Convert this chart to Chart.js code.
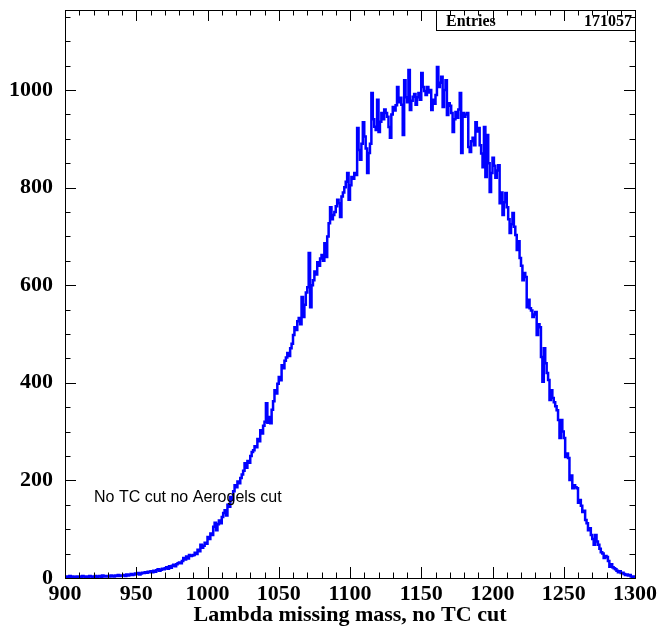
<!DOCTYPE html>
<html>
<head>
<meta charset="utf-8">
<script src="https://cdn.jsdelivr.net/npm/chart.js@4.4.1/dist/chart.umd.min.js"></script>
<style>
  body { margin: 0; background: #fff; }
  canvas { display: block; }
</style>
</head>
<body>
<canvas id="histo" width="659" height="626"></canvas>
<script>
// histogram: 400 bins of 1 unit from 900 to 1300
var binStart = 900;
var binWidth = 1;
var counts = [
    2, 3, 1, 4, 2, 3, 2, 1, 3, 2,
    3, 2, 4, 3, 2, 3, 1, 4, 3, 2,
    3, 4, 2, 3, 4, 2, 5, 3, 4, 3,
    4, 3, 5, 4, 3, 5, 4, 6, 4, 5,
    5, 6, 4, 7, 5, 6, 8, 6, 7, 9,
    8, 10, 7, 9, 11, 10, 12, 11, 13, 12,
    14, 12, 15, 13, 16, 18, 15, 17, 19, 18,
    20, 22, 19, 24, 21, 25, 27, 24, 28, 30,
    32, 30, 35, 41, 38, 44, 40, 47, 45, 46,
    47, 52, 49, 58, 55, 68, 62, 66, 72, 70,
    84, 80, 91, 88, 105, 113, 98, 110, 118, 112,
    125, 133, 139, 128, 150, 146, 166, 160, 178, 190,
    186, 198, 194, 205, 212, 220, 235, 226, 240, 236,
    250, 258, 262, 270, 268, 285, 280, 303, 296, 312,
    320, 358, 318, 330, 317, 345, 362, 385, 378, 398,
    412, 405, 436, 430, 445, 452, 461, 455, 471, 480,
    498, 514, 508, 526, 533, 520, 576, 535, 560, 585,
    596, 666, 555, 600, 610, 628, 622, 647, 640, 655,
    662, 650, 686, 658, 700, 727, 760, 735, 744, 750,
    762, 775, 768, 740, 782, 790, 801, 812, 830, 775,
    805, 822, 818, 830, 826, 922, 877, 857, 890, 934,
    905, 880, 830, 871, 890, 994, 940, 925, 918, 980,
    914, 935, 953, 940, 960, 953, 945, 924, 902, 950,
    965, 958, 969, 1006, 975, 984, 970, 908, 1020, 985,
    975, 1041, 959, 978, 986, 992, 970, 985, 994, 980,
    1035, 1006, 998, 990, 1006, 995, 1000, 959, 980, 972,
    990, 1047, 1006, 1015, 1027, 965, 1000, 1020, 949, 973,
    968, 953, 914, 940, 955, 943, 960, 994, 871, 953,
    945, 950, 953, 883, 873, 895, 902, 887, 934, 915,
    922, 887, 870, 842, 924, 822, 908, 850, 791, 830,
    861, 845, 820, 835, 846, 768, 790, 744, 770, 789,
    760, 735, 707, 725, 748, 720, 703, 672, 690, 656,
    640, 610, 625, 617, 555, 570, 553, 548, 535, 540,
    545, 498, 520, 514, 453, 402, 471, 440, 420, 406,
    365, 385, 369, 360, 352, 344, 324, 287, 324, 300,
    287, 248, 255, 246, 201, 210, 184, 190, 186, 184,
    154, 160, 148, 135, 138, 119, 112, 98, 102, 88,
    80, 68, 88, 75, 68, 60, 53, 50, 41, 45,
    43, 35, 23, 28, 22, 20, 18, 15, 12, 14,
    10, 11, 8, 6, 7, 5, 6, 3, 2, 3
];
var xTicks = [900, 950, 1000, 1050, 1100, 1150, 1200, 1250, 1300];
var yTicks = [0, 200, 400, 600, 800, 1000];
var xTitle = "Lambda missing mass, no TC cut";
var noteText = "No TC cut no Aerogels cut";
var entriesLabel = "Entries";
var entriesValue = "171057";

// points at the left edge of each bin, plus the closing edge
var points = counts.map((c, i) => ({ x: binStart + i * binWidth, y: c }));
points.push({ x: binStart + counts.length * binWidth, y: counts[counts.length - 1] });

var serif = "'Liberation Serif', 'DejaVu Serif', serif";

// ROOT style frame: ticks inside on all four sides, stats box, text label
var rootFrame = {
    id: 'rootFrame',
    afterDatasetsDraw(chart) {
        const ctx = chart.ctx;
        const a = chart.chartArea;
        const xs = chart.scales.x;
        const ys = chart.scales.y;
        ctx.save();

        // stats box
        ctx.fillStyle = '#fff';
        ctx.fillRect(436, a.top, a.right - 436, 20);
        ctx.strokeStyle = '#000';
        ctx.lineWidth = 1;
        ctx.strokeRect(436.5, a.top + 0.5, a.right - 436, 20);
        ctx.fillStyle = '#000';
        ctx.font = "bold 16px " + serif;
        ctx.textBaseline = 'alphabetic';
        ctx.textAlign = 'left';
        ctx.fillText(entriesLabel, 446, a.top + 16);
        ctx.textAlign = 'right';
        ctx.fillText(entriesValue, a.right - 3, a.top + 16);

        // frame
        ctx.lineWidth = 1;
        ctx.strokeStyle = '#000';
        ctx.strokeRect(a.left + 0.5, a.top + 0.5, a.right - a.left, a.bottom - a.top);

        // x ticks (minor every 10, major every 50)
        ctx.beginPath();
        for (let v = xs.min; v <= xs.max; v += 10) {
            const len = (v % 50 === 0) ? 11 : 5.5;
            const px = Math.round(xs.getPixelForValue(v)) + 0.5;
            ctx.moveTo(px, a.bottom);
            ctx.lineTo(px, a.bottom - len);
            ctx.moveTo(px, a.top);
            ctx.lineTo(px, a.top + len);
        }
        // y ticks (minor every 50, major every 200)
        for (let v = 0; v <= ys.max; v += 50) {
            const len = (v % 200 === 0) ? 11 : 5.5;
            const py = Math.round(ys.getPixelForValue(v)) + 0.5;
            ctx.moveTo(a.left, py);
            ctx.lineTo(a.left + len, py);
            ctx.moveTo(a.right, py);
            ctx.lineTo(a.right - len, py);
        }
        ctx.stroke();

        // text label on top of the curve
        ctx.font = "16px 'Liberation Sans', Arial, sans-serif";
        ctx.textAlign = 'left';
        ctx.fillStyle = '#000';
        ctx.fillText(noteText, 94, 502);

        ctx.restore();
    }
};

var ctx = document.getElementById('histo').getContext('2d');
var chart = new Chart(ctx, {
    type: 'line',
    data: {
        datasets: [{
            data: points,
            borderColor: '#0000ff',
            borderWidth: 2.5,
            pointRadius: 0,
            stepped: 'before',
            fill: false,
            tension: 0
        }]
    },
    options: {
        responsive: false,
        animation: false,
        devicePixelRatio: 1,
        layout: { padding: { left: 0, right: 24, top: 10, bottom: 0 } },
        plugins: {
            legend: { display: false },
            tooltip: { enabled: false }
        },
        scales: {
            x: {
                type: 'linear',
                min: 900,
                max: 1300,
                afterBuildTicks: s => { s.ticks = xTicks.map(v => ({ value: v })); },
                afterFit: s => { s.height = 48; s.paddingLeft = 0; s.paddingRight = 0; },
                grid: { display: false, drawTicks: false },
                border: { display: false },
                ticks: {
                    color: '#000',
                    padding: 3,
                    maxRotation: 0,
                    autoSkip: false,
                    callback: v => String(v),
                    font: { family: serif, size: 22, weight: 'bold' }
                },
                title: {
                    display: true,
                    text: xTitle,
                    color: '#000',
                    padding: { top: 0, bottom: -3 },
                    font: { family: serif, size: 22, weight: 'bold' }
                }
            },
            y: {
                type: 'linear',
                min: 0,
                max: 1164,
                afterBuildTicks: s => { s.ticks = yTicks.map(v => ({ value: v })); },
                afterFit: s => { s.width = 65; s.paddingTop = 0; s.paddingBottom = 0; },
                grid: { display: false, drawTicks: false },
                border: { display: false },
                ticks: {
                    color: '#000',
                    padding: 12,
                    autoSkip: false,
                    includeBounds: false,
                    callback: v => String(v),
                    font: { family: serif, size: 22, weight: 'bold' }
                }
            }
        }
    },
    plugins: [rootFrame]
});
</script>
</body>
</html>
